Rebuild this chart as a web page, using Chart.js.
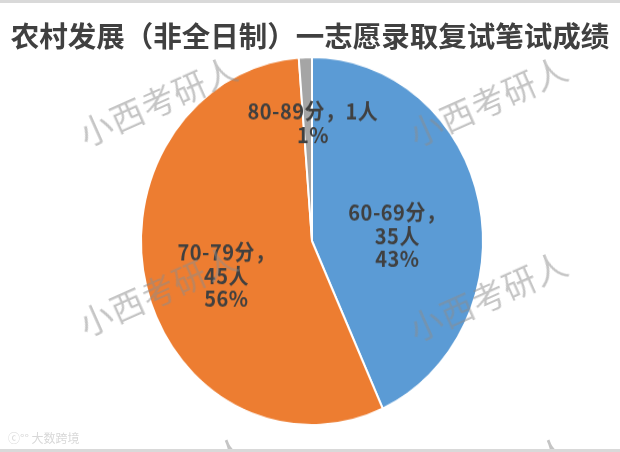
<!DOCTYPE html>
<html>
<head>
<meta charset="utf-8">
<script src="https://cdn.jsdelivr.net/npm/chart.js@4"></script>
<style>
  html, body { margin: 0; padding: 0; background: #fff; }
  #page { position: relative; width: 620px; height: 452px; overflow: hidden; background: #fff; }
  #page:before { content: ""; position: absolute; left: 0; top: 0; width: 620px; height: 3px; background: #d9d9d9; z-index: 3; }
  #page:after { content: ""; position: absolute; left: 0; bottom: 0; width: 620px; height: 3px; background: #d9d9d9; z-index: 3; }
  #title { position: absolute; left: 0; top: 14px; width: 620px; text-align: center;
    font: bold 28.5px "Noto Sans CJK SC", sans-serif; color: #404040; white-space: nowrap; }
  #wrap { position: absolute; left: 0; top: 0; width: 620px; height: 420px; transform: scaleY(1.0762); transform-origin: 0 0; }
  .wm { position: absolute; font: 33px "Noto Sans CJK SC", sans-serif; color: rgba(140,140,140,0.5);
    white-space: nowrap; transform: translate(-50%, -50%) rotate(-24deg); letter-spacing: 1px; }
  #logo { position: absolute; left: 8px; top: 429px; font: 12px "Noto Sans CJK SC", sans-serif; color: #d8d8d8; }
</style>
</head>
<body>
<div id="page">
  <div id="wrap"><canvas id="myChart" width="620" height="420"></canvas></div>
  <div id="title">农村发展（非全日制）一志愿录取复试笔试成绩</div>
  <div class="wm" style="left:158px;top:100px">小西考研人</div>
  <div class="wm" style="left:488px;top:100px">小西考研人</div>
  <div class="wm" style="left:158px;top:290px">小西考研人</div>
  <div class="wm" style="left:488px;top:295px">小西考研人</div>
  <div class="wm" style="left:170px;top:480px">小西考研人</div>
  <div class="wm" style="left:492px;top:480px">小西考研人</div>
  <div id="logo">ⓒ°° 大数跨境</div>
</div>
<script>
// data
const ranges = ['60-69分', '70-79分', '80-89分'];
const counts = [35, 45, 1];
const colors = ['#5B9BD5', '#ED7D31', '#A5A5A5'];
// label placement: share of radius, and turn (deg) from the slice middle
const labelDist = [0.5, 0.535, 0.64];
const labelTurn = [9, -6.3, 2.7];

const total = counts.reduce((a, b) => a + b, 0);
const labelLines = ranges.map((r, i) => {
  const pct = Math.round(counts[i] / total * 100) + '%';
  if (counts[i] < 5) return [r + '，' + counts[i] + '人', pct]; // small slice keeps one line
  return [r + '，', counts[i] + '人', pct];
});

const sliceLabels = {
  id: 'sliceLabels',
  afterDatasetsDraw(chart) {
    const ctx = chart.ctx;
    const meta = chart.getDatasetMeta(0);
    ctx.save();
    ctx.font = 'bold 20px "Noto Sans CJK SC", sans-serif';
    ctx.letterSpacing = '0.5px';
    ctx.fillStyle = '#404040';
    ctx.textAlign = 'center';
    ctx.textBaseline = 'middle';
    meta.data.forEach((arc, i) => {
      const p = arc.getProps(['x', 'y', 'startAngle', 'endAngle', 'outerRadius'], true);
      const mid = (p.startAngle + p.endAngle) / 2 + labelTurn[i] * Math.PI / 180;
      const d = p.outerRadius * labelDist[i];
      const cx = p.x + Math.cos(mid) * d;
      const cy = p.y + Math.sin(mid) * d;
      const lines = labelLines[i];
      const lh = 21.5;
      lines.forEach((t, k) => {
        ctx.fillText(t, cx, cy + (k - (lines.length - 1) / 2) * lh);
      });
    });
    ctx.restore();
  }
};

const config = {
  type: 'pie',
  data: {
    labels: ranges,
    datasets: [{
      data: counts,
      backgroundColor: colors,
      borderColor: '#fff',
      borderWidth: 2
    }]
  },
  options: {
    responsive: false,
    animation: false,
    events: [],
    layout: {
      padding: { top: 52, bottom: 24, left: 140, right: 136 }
    },
    plugins: {
      legend: false,
      tooltip: { enabled: false }
    }
  },
  plugins: [sliceLabels]
};

const myChart = new Chart(document.getElementById('myChart'), config);
</script>
</body>
</html>
